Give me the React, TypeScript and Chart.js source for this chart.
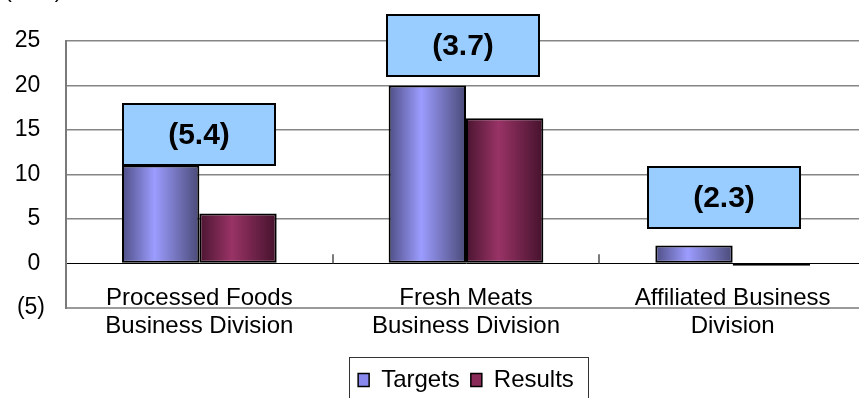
import React, { useEffect, useRef } from "react";
import { Chart, registerables } from "chart.js";

Chart.register(...registerables);

// ---- data ----
const categories: string[][] = [
  ["Processed Foods", "Business Division"],
  ["Fresh Meats", "Business Division"],
  ["Affiliated Business", "Division"],
];
const seriesNames = ["Targets", "Results"];
const targets = [11.0, 20.0, 2.0];
const results = [5.6, 16.3, -0.3];
const calloutLabels = ["(5.4)", "(3.7)", "(2.3)"];
const yTickValues = [-5, 0, 5, 10, 15, 20, 25];
const unitLabel = "(¥ bn)";

// ---- styles ----
const FONT = '"Liberation Sans", Arial, sans-serif';
const CAT_PCT = 0.58;
const targetGrad = ["#4e4e86", "#9c9cff", "#4a4a78"];
const resultGrad = ["#4a1530", "#993366", "#45122c"];
const legendColors = ["#8888ee", "#8a2a58"];

function barGradient(c: any, colors: string[]) {
  const chart = c.chart;
  const xs = chart.scales && chart.scales.x;
  if (!xs || c.dataIndex === undefined || !chart.chartArea) return colors[1];
  const cat = xs.width / categories.length;
  const group = cat * CAT_PCT;
  const bw = group / 2;
  const center = xs.getPixelForValue(c.dataIndex);
  const left = center - group / 2 + c.datasetIndex * bw;
  const g = chart.ctx.createLinearGradient(left, 0, left + bw, 0);
  g.addColorStop(0, colors[0]);
  g.addColorStop(0.42, colors[1]);
  g.addColorStop(1, colors[2]);
  return g;
}

const decorPlugin = {
  id: "decor",
  afterDatasetsDraw(chart: any, _args: any, opts: any) {
    const { ctx } = chart;
    const x = chart.scales.x;
    const y = chart.scales.y;
    ctx.save();
    const y0 = y.getPixelForValue(0);
    ctx.strokeStyle = "#7a7a7a";
    ctx.lineWidth = 2;
    for (let i = 1; i < categories.length; i++) {
      const px = Math.round((x.getPixelForValue(i - 1) + x.getPixelForValue(i)) / 2);
      ctx.beginPath();
      ctx.moveTo(px, y0 - opts.tickLen);
      ctx.lineTo(px, y0);
      ctx.stroke();
    }
    calloutLabels.forEach((t, i) => {
      const cx = x.getPixelForValue(i) + opts.offsets[i];
      const bottom = y.getPixelForValue(opts.anchors[i]);
      const left = Math.round(cx - opts.boxW / 2);
      const top = Math.round(bottom - opts.boxH);
      ctx.fillStyle = "#99ccff";
      ctx.fillRect(left, top, opts.boxW, opts.boxH);
      ctx.strokeStyle = "#000";
      ctx.lineWidth = 2;
      ctx.strokeRect(left, top, opts.boxW, opts.boxH);
      ctx.fillStyle = "#000";
      ctx.font = "bold 30px " + FONT;
      ctx.textAlign = "center";
      ctx.textBaseline = "middle";
      ctx.fillText(t, left + opts.boxW / 2, top + opts.boxH / 2 + 1);
    });
    ctx.restore();
  },
  afterDraw(chart: any, _args: any, opts: any) {
    const { ctx } = chart;
    const lg = chart.legend;
    ctx.save();
    if (lg && lg.legendHitBoxes && lg.legendHitBoxes.length) {
      const hb = lg.legendHitBoxes;
      const l = hb[0].left - 9;
      const last = hb[hb.length - 1];
      const r = last.left + last.width + 14;
      const t = hb[0].top - opts.legendTop;
      ctx.strokeStyle = "#333";
      ctx.lineWidth = 1;
      ctx.strokeRect(Math.round(l) + 0.5, Math.round(t) + 0.5, Math.round(r - l), chart.height);
    }
    // unit label (mostly cut off at the top)
    ctx.fillStyle = "#000";
    ctx.font = "22px " + FONT;
    ctx.textAlign = "right";
    ctx.textBaseline = "alphabetic";
    ctx.fillText(unitLabel, chart.chartArea.left + opts.unitRight, opts.unitBaseline);
    ctx.restore();
  },
};

export default function App() {
  const ref = useRef<HTMLCanvasElement | null>(null);

  useEffect(() => {
    if (!ref.current) return;
    const chart = new Chart(ref.current, {
      type: "bar",
      data: {
        labels: categories,
        datasets: [
          {
            label: seriesNames[0],
            data: targets,
            backgroundColor: (c: any) => barGradient(c, targetGrad),
            borderColor: "#000",
            borderWidth: 2,
            borderSkipped: false,
            categoryPercentage: CAT_PCT,
            barPercentage: 1,
          },
          {
            label: seriesNames[1],
            data: results,
            backgroundColor: (c: any) => barGradient(c, resultGrad),
            borderColor: "#000",
            borderWidth: 2,
            borderSkipped: false,
            categoryPercentage: CAT_PCT,
            barPercentage: 1,
          },
        ],
      },
      options: {
        responsive: false,
        animation: false,
        layout: { padding: { top: 41, right: 14, bottom: 18, left: 8 } },
        scales: {
          x: {
            position: { y: 0 } as any,
            grid: { display: false, drawTicks: false },
            border: { display: false },
            ticks: {
              color: "#000",
              padding: 21,
              maxRotation: 0,
              autoSkip: false,
              font: { family: FONT, size: 24, lineHeight: 1.17 },
            },
          },
          y: {
            min: -5,
            max: 25,
            afterFit: (s: any) => {
              s.width = 58;
            },
            afterBuildTicks: (s: any) => {
              s.ticks = yTickValues.map((v) => ({ value: v }));
            },
            grid: {
              drawTicks: false,
              color: (c: any) =>
                c.tick && c.tick.value === 0 ? "#000" : c.tick && c.tick.value === -5 ? "#9a9a9a" : "#858585",
              lineWidth: (c: any) =>
                c.tick && c.tick.value === 0 ? 1 : c.tick && c.tick.value === -5 ? 2 : 1.5,
            },
            border: { color: "#7a7a7a", width: 2 },
            ticks: {
              color: "#000",
              padding: 21,
              font: { family: FONT, size: 23 },
              callback: (v: any) => (Number(v) < 0 ? `(${Math.abs(Number(v))})` : `${v}\u2009`),
            },
          },
        },
        plugins: {
          tooltip: { enabled: false },
          legend: {
            position: "bottom",
            fullSize: false,
            title: { display: true, text: "", padding: { top: 35, bottom: 0 }, font: { size: 12 } },
            labels: {
              color: "#000",
              boxWidth: 11,
              boxHeight: 13,
              padding: 11,
              font: { family: FONT, size: 24 },
              generateLabels: () =>
                seriesNames.map((name, i) => ({
                  text: name,
                  fillStyle: legendColors[i],
                  strokeStyle: "#000",
                  lineWidth: 1.5,
                  hidden: false,
                  datasetIndex: i,
                  fontColor: "#000",
                })),
            },
          },
          decor: {
            tickLen: 9,
            boxW: 152,
            boxH: 61,
            anchors: [11.0, 21.1, 4.0],
            offsets: [0, -3, -9],
            legendTop: 11,
            unitRight: -4,
            unitBaseline: -3,
          },
        } as any,
      },
      plugins: [decorPlugin],
    });
    return () => chart.destroy();
  }, []);

  return (
    <div
      style={{
        position: "fixed",
        left: 0,
        top: 0,
        width: 859,
        height: 398,
        overflow: "hidden",
        background: "#fff",
      }}
    >
      <canvas ref={ref} width={880} height={420} style={{ display: "block" }} />
    </div>
  );
}
